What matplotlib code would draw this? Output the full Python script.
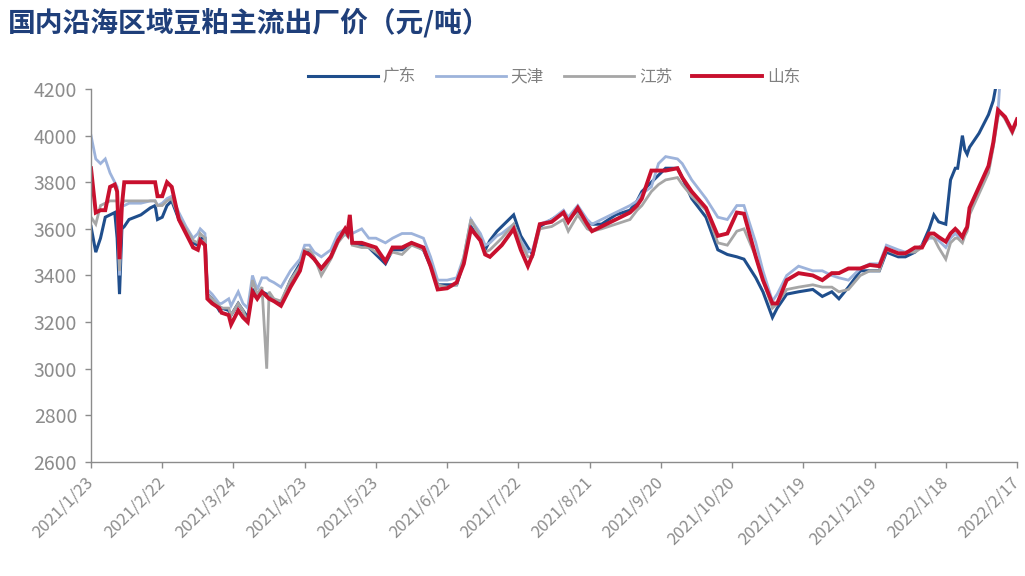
import matplotlib
matplotlib.use("Agg")
import matplotlib.pyplot as plt
import pandas as pd
import numpy as np

plt.rcParams['font.family'] = ['Noto Sans CJK SC', 'DejaVu Sans']

title = "国内沿海区域豆粕主流出厂价（元/吨）"
series_names = ["广东", "天津", "江苏", "山东"]
start_date = "2021-01-23"

# day offsets from start_date
days = [0, 2, 4, 6, 8, 10, 11, 12, 13, 14,
        16, 21, 25, 27, 28, 30, 32, 34, 37, 40,
        43, 45, 46, 48, 49, 51, 54, 55, 58, 59,
        62, 64, 66, 68, 70, 72, 74, 75, 77, 80,
        84, 88, 90, 92, 94, 97, 101, 104, 107, 108,
        109, 110, 114, 117, 120, 124, 127, 131, 135, 140,
        143, 146, 150, 154, 157, 160, 164, 166, 168, 171,
        173, 178, 181, 184, 186, 189, 194, 199, 201, 205,
        209, 211, 215, 221, 227, 230, 232, 236, 239, 242,
        247, 249, 253, 259, 264, 268, 272, 275, 280, 283,
        287, 289, 293, 298, 304, 308, 312, 315, 319, 324,
        328, 332, 335, 340, 343, 347, 350, 353, 355, 357,
        360, 362, 364, 365, 367, 368, 369, 370, 374, 378,
        380, 382, 383, 385, 388, 390]

guangdong = [3610, 3500, 3560, 3650, 3660, 3670, 3560, 3320, 3600, 3610,
             3640, 3660, 3690, 3700, 3640, 3650, 3700, 3720, 3640, 3590,
             3540, 3530, 3560, 3560, 3320, 3300, 3250, 3260, 3250, 3230,
             3280, 3250, 3220, 3340, 3320, 3330, 3320, 3310, 3290, 3280,
             3380, 3450, 3510, 3500, 3470, 3430, 3480, 3550, 3580, 3570,
             3600, 3540, 3530, 3520, 3490, 3450, 3510, 3510, 3540, 3510,
             3440, 3360, 3360, 3360, 3460, 3610, 3550, 3510, 3550, 3590,
             3610, 3660, 3570, 3520, 3490, 3610, 3640, 3670, 3640, 3680,
             3630, 3620, 3620, 3660, 3680, 3720, 3760, 3800, 3830, 3860,
             3860, 3820, 3730, 3650, 3510, 3490, 3480, 3470, 3390, 3330,
             3220, 3260, 3320, 3330, 3340, 3310, 3330, 3300, 3350, 3420,
             3420, 3420, 3500, 3480, 3480, 3500, 3530, 3600, 3660, 3630,
             3620, 3810, 3860, 3860, 4000, 3940, 3920, 3950, 4010, 4090,
             4150, 4260, 4260, 4260, 4260, 4260]

tianjin = [4000, 3900, 3880, 3900, 3840, 3800, 3780, 3400, 3700, 3700,
           3710, 3710, 3720, 3720, 3700, 3710, 3730, 3740, 3670, 3610,
           3560, 3580, 3600, 3580, 3340, 3320, 3280, 3280, 3300, 3270,
           3330, 3280, 3260, 3400, 3340, 3390, 3390, 3380, 3370, 3350,
           3420, 3470, 3530, 3530, 3500, 3480, 3510, 3580, 3600, 3590,
           3620, 3580, 3600, 3560, 3560, 3540, 3560, 3580, 3580, 3560,
           3480, 3380, 3380, 3390, 3480, 3640, 3580, 3530, 3540, 3570,
           3580, 3620, 3550, 3500, 3510, 3620, 3640, 3680, 3650, 3700,
           3640, 3620, 3640, 3670, 3700, 3720, 3750, 3780, 3880, 3910,
           3900, 3880, 3810, 3730, 3650, 3640, 3700, 3700, 3540, 3420,
           3290, 3320, 3400, 3440, 3420, 3420, 3400, 3390, 3380, 3430,
           3450, 3450, 3530, 3510, 3500, 3510, 3530, 3560, 3560, 3550,
           3520, 3560, 3580, 3570, 3560, 3580, 3600, 3670, 3760, 3850,
           3960, 4100, 4260, 4260, 4260, 4260]

jiangsu = [3650, 3620, 3700, 3710, 3720, 3720, 3720, 3420, 3710, 3720,
           3720, 3720, 3720, 3720, 3700, 3700, 3720, 3730, 3650, 3600,
           3550, 3540, 3580, 3560, 3320, 3300, 3270, 3260, 3260, 3230,
           3280, 3250, 3200, 3380, 3320, 3350, 3000, 3330, 3300, 3290,
           3380, 3440, 3510, 3510, 3480, 3400, 3470, 3540, 3580, 3570,
           3600, 3530, 3520, 3520, 3500, 3470, 3500, 3490, 3530, 3510,
           3450, 3360, 3350, 3360, 3480, 3640, 3560, 3500, 3510, 3540,
           3560, 3620, 3540, 3480, 3480, 3600, 3610, 3640, 3590, 3660,
           3600, 3590, 3600, 3620, 3640, 3680, 3700, 3760, 3790, 3810,
           3820, 3790, 3740, 3680, 3540, 3530, 3590, 3600, 3480, 3380,
           3260, 3280, 3340, 3350, 3360, 3350, 3350, 3330, 3340, 3400,
           3420, 3420, 3510, 3490, 3500, 3500, 3520, 3570, 3560, 3520,
           3470, 3540, 3560, 3560, 3540, 3570, 3590, 3660, 3750, 3840,
           3950, 4080, 4100, 4070, 4010, 4060]

shandong = [3860, 3670, 3680, 3680, 3780, 3790, 3760, 3470, 3700, 3800,
            3800, 3800, 3800, 3800, 3740, 3740, 3800, 3780, 3640, 3580,
            3520, 3510, 3550, 3530, 3300, 3280, 3260, 3240, 3230, 3190,
            3250, 3220, 3200, 3330, 3300, 3330, 3310, 3300, 3290, 3270,
            3350, 3420, 3500, 3490, 3470, 3430, 3480, 3550, 3600, 3580,
            3660, 3540, 3540, 3530, 3520, 3460, 3520, 3520, 3540, 3520,
            3440, 3340, 3345, 3370, 3450, 3600, 3550, 3490, 3480, 3510,
            3530, 3600, 3510, 3440, 3490, 3620, 3630, 3670, 3630, 3690,
            3620, 3590, 3610, 3640, 3670, 3700, 3730, 3850, 3850, 3850,
            3860, 3820, 3760, 3690, 3570, 3580, 3670, 3665, 3480, 3380,
            3280, 3280, 3380, 3410, 3400, 3380, 3410, 3410, 3430, 3430,
            3445, 3440, 3515, 3495, 3495, 3520, 3520, 3580, 3580, 3565,
            3545, 3580, 3600, 3590, 3565, 3590, 3608, 3690, 3780, 3870,
            3970, 4110, 4100, 4080, 4020, 4070]

y_ticks = [2600, 2800, 3000, 3200, 3400, 3600, 3800, 4000, 4200]
tick_step_days = 30

colors = ["#1F4E8C", "#9DB3DB", "#A6A6A6", "#C8102E"]
widths = [2.2, 2.0, 2.0, 2.8]

base = pd.Timestamp(start_date)
dates = base + pd.to_timedelta(days, unit="D")

fig = plt.figure(figsize=(10.25, 5.76), dpi=100)
ax = fig.add_axes([0.0888, 0.198, 0.9034, 0.6475])

for name, vals, c, w in zip(series_names, [guangdong, tianjin, jiangsu, shandong], colors, widths):
    ax.plot(dates, vals, color=c, lw=w, label=name, solid_joinstyle="miter")

ax.set_ylim(2600, 4200)
ax.set_yticks(y_ticks)
ax.set_xlim(base, base + pd.Timedelta(days=390))
tick_dates = [base + pd.Timedelta(days=k) for k in range(0, 391, tick_step_days)]
ax.set_xticks(tick_dates)
ax.set_xticklabels([f"{d.year}/{d.month}/{d.day}" for d in tick_dates],
                   rotation=45, ha="right", va="center", rotation_mode="anchor")

for s in ["top", "right"]:
    ax.spines[s].set_visible(False)
for s in ["left", "bottom"]:
    ax.spines[s].set_color("#8C8C8C")
    ax.spines[s].set_linewidth(1.0)
ax.tick_params(axis="both", colors="#8C8C8C", labelcolor="#8C8C8C", length=4, width=1)
ax.tick_params(axis="y", labelsize=14, pad=6)
ax.tick_params(axis="x", labelsize=12, pad=9)

leg = ax.legend(loc="upper center", bbox_to_anchor=(0.5, 1.095), ncol=4, frameon=False,
                fontsize=12, handlelength=4.2, columnspacing=1.2, handletextpad=0.3)
for t in leg.get_texts():
    t.set_color("#808080")

fig.text(0.008, 0.960, title, fontsize=20, fontweight="bold", color="#1F3F7A",
         ha="left", va="center")

fig.savefig("out.png", dpi=100)
